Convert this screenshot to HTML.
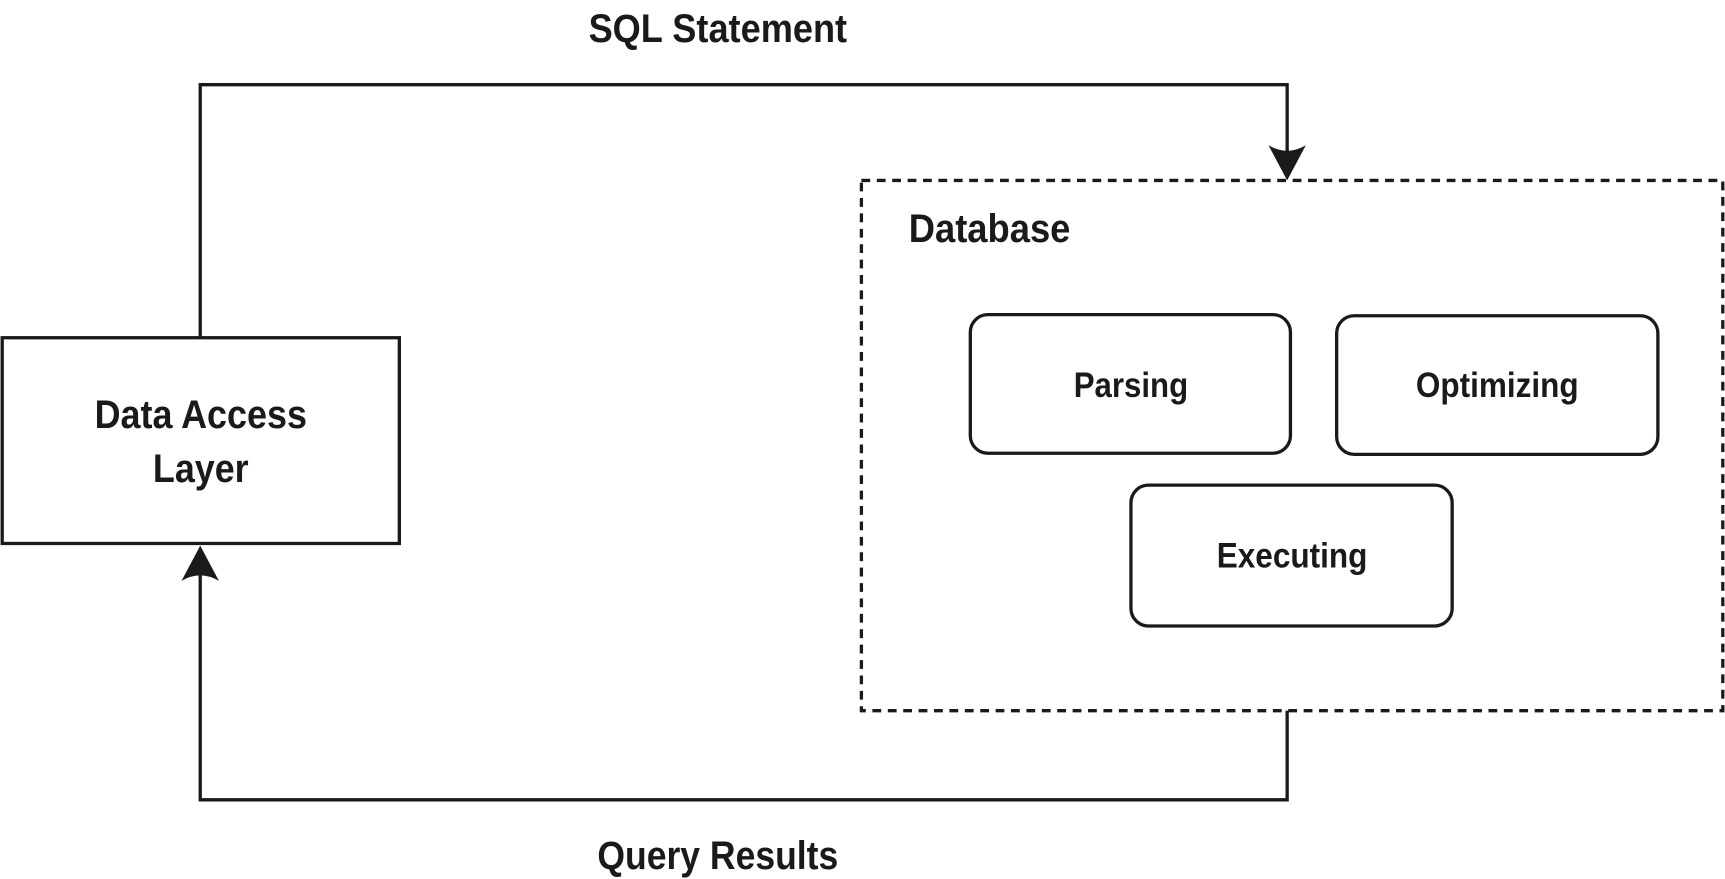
<!DOCTYPE html>
<html><head><meta charset="utf-8"><style>html,body{margin:0;padding:0;background:#fff;}svg{display:block;}</style></head>
<body>
<svg width="1725" height="879" viewBox="0 0 1568 799" preserveAspectRatio="none" xmlns="http://www.w3.org/2000/svg">
<g fill="none" stroke="#1a1a1a" stroke-width="3">
<rect x="2" y="307" width="361" height="187"/>
<polyline points="182,307 182,77 1170,77 1170,150"/>
<polyline points="1170,646 1170,727 182,727 182,510"/>
<rect x="783" y="164" width="783" height="482" stroke-dasharray="8,6"/>
<rect x="882" y="286" width="291" height="126" rx="16"/>
<rect x="1215" y="287" width="292" height="126" rx="16"/>
<rect x="1028" y="441" width="292" height="128" rx="16"/>
</g>
<g fill="#1a1a1a">
<path d="M1170,164 L1153,132 Q1170,142 1187,132 Z"/>
<path d="M182,496 L165,528 Q182,518 199,528 Z"/>
</g>
<g font-family="'Liberation Sans Narrow','Liberation Sans',sans-serif" fill="#1a1a1a" font-size="36" font-weight="bold">
<text x="535" y="38" textLength="235" lengthAdjust="spacingAndGlyphs">SQL Statement</text>
<text x="543" y="790" textLength="219" lengthAdjust="spacingAndGlyphs">Query Results</text>
<text x="826" y="220" textLength="147" lengthAdjust="spacingAndGlyphs">Database</text>
<text x="86" y="389" textLength="193" lengthAdjust="spacingAndGlyphs">Data Access</text>
<text x="139" y="438" textLength="87" lengthAdjust="spacingAndGlyphs">Layer</text>
<text x="976" y="361" font-size="32" textLength="104" lengthAdjust="spacingAndGlyphs">Parsing</text>
<text x="1287" y="361" font-size="32" textLength="148" lengthAdjust="spacingAndGlyphs">Optimizing</text>
<text x="1106" y="516" font-size="32" textLength="137" lengthAdjust="spacingAndGlyphs">Executing</text>
</g>
</svg>
</body></html>
